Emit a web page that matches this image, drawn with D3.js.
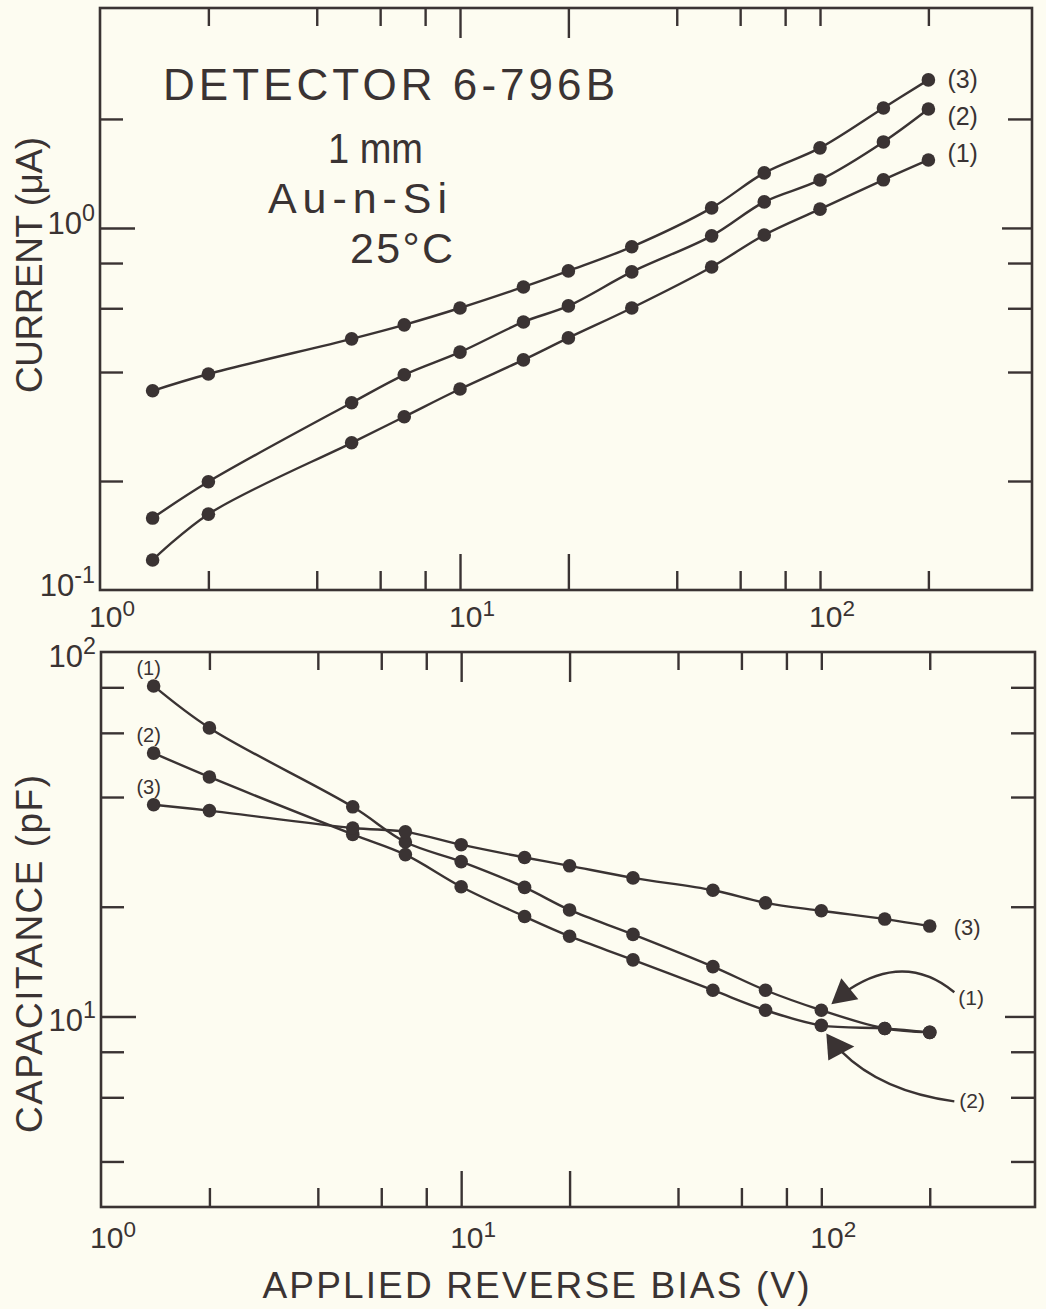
<!DOCTYPE html>
<html lang="en">
<head>
  <meta charset="UTF-8" />
  <title>Detector 6-796B</title>
  <script src="https://d3js.org/d3.v7.min.js"></script>
  <style>
    body {
      margin: 0;
      background: #fdfcf1;
    }
    svg text {
      font-family: 'Liberation Sans', Arial, sans-serif;
      fill: #3a3333;
    }
  </style>
</head>
<body>
  <svg id="chart" width="1046" height="1309"></svg>

  <script>
    // bias voltages shared by every curve (V)
    const biasV = [1.4, 2, 5, 7, 10, 15, 20, 30, 50, 70, 100, 150, 200];

    // leakage current (uA), top panel
    const current1 = [0.121, 0.162, 0.255, 0.301, 0.359, 0.432, 0.497, 0.601, 0.780, 0.956, 1.127, 1.358, 1.541];
    const current2 = [0.158, 0.199, 0.329, 0.393, 0.454, 0.550, 0.609, 0.756, 0.951, 1.180, 1.357, 1.728, 2.13];
    const current3 = [0.355, 0.395, 0.494, 0.540, 0.601, 0.687, 0.761, 0.887, 1.136, 1.419, 1.664, 2.145, 2.564];

    // capacitance (pF), bottom panel
    const cap1 = [80.7, 61.9, 37.6, 30.1, 26.6, 22.6, 19.6, 16.8, 13.7, 11.8, 10.4, 9.27, 9.04];
    const cap2 = [52.8, 45.4, 31.6, 27.8, 22.7, 18.8, 16.6, 14.3, 11.8, 10.4, 9.45, 9.27, 9.04];
    const cap3 = [38.1, 36.7, 32.9, 32.1, 29.6, 27.3, 25.9, 24.0, 22.2, 20.5, 19.5, 18.5, 17.7];

    const seriesNames = ["(1)", "(2)", "(3)"];

    // tick marks
    const xTicks = [2, 4, 6, 8, 10, 20, 40, 60, 80, 100, 200];
    const xLongTicks = [10, 20];
    const xTickLabels = [[1, "0"], [10, "1"], [100, "2"]];
    const currentTicks = [0.2, 0.4, 0.6, 0.8, 1, 2];
    const currentLongTicks = [1];
    const currentTickLabels = [[0.1, "-1"], [1, "0"]];
    const capTicks = [4, 6, 8, 10, 20, 40, 60, 80];
    const capLongTicks = [10];
    const capTickLabels = [[10, "1"], [100, "2"]];

    const ink = "#3a3333";
    const svg = d3.select("#chart");

    const topX = d3.scaleLog().domain([1, 388]).range([100, 1032]);
    const topY = d3.scaleLog().domain([0.1, 4.05]).range([590, 8]);
    const botX = d3.scaleLog().domain([1, 392]).range([101, 1035]);
    const botY = d3.scaleLog().domain([3, 100]).range([1207, 652]);

    function frame(x, y) {
      svg.append("rect")
        .attr("x", x.range()[0]).attr("y", y.range()[1])
        .attr("width", x.range()[1] - x.range()[0])
        .attr("height", y.range()[0] - y.range()[1])
        .attr("fill", "none").attr("stroke", ink).attr("stroke-width", 2.6);
    }

    function tickSet(axisFn, scale, values, size, transform) {
      const g = svg.append("g")
        .attr("transform", transform)
        .call(axisFn(scale).tickValues(values).tickSize(size).tickFormat(""));
      g.select(".domain").remove();
      g.selectAll("line").attr("stroke", ink).attr("stroke-width", 2.4);
    }

    function ticks(x, y, xt, xl, yt, yl) {
      const xs = xt.filter(v => !xl.includes(v));
      const ys = yt.filter(v => !yl.includes(v));
      const [x0, x1] = x.range(), [y0, y1] = y.range();
      tickSet(d3.axisBottom, x, xs, -19, `translate(0,${y0})`);
      tickSet(d3.axisBottom, x, xl, -36, `translate(0,${y0})`);
      tickSet(d3.axisTop, x, xs, -18, `translate(0,${y1})`);
      tickSet(d3.axisTop, x, xl, -30, `translate(0,${y1})`);
      tickSet(d3.axisLeft, y, ys, -23, `translate(${x0},0)`);
      tickSet(d3.axisLeft, y, yl, -35, `translate(${x0},0)`);
      tickSet(d3.axisRight, y, ys, -24, `translate(${x1},0)`);
      tickSet(d3.axisRight, y, yl, -30, `translate(${x1},0)`);
    }

    function powerLabel(px, py, exp, anchor, size, shift) {
      const t = svg.append("text")
        .attr("x", px).attr("y", py)
        .attr("text-anchor", anchor)
        .attr("font-size", size);
      t.append("tspan").text("10");
      t.append("tspan").attr("dy", shift).attr("font-size", size * 0.75).text(exp);
    }

    function xLabels(x, y, dy) {
      xTickLabels.forEach(([v, e]) => powerLabel(x(v) - 11, y.range()[0] + dy, e, "start", 30, -11));
    }

    function yLabels(x, y, list, dy) {
      list.forEach(([v, e]) => powerLabel(x.range()[0] - 5, y(v) + dy, e, "end", 31, -13));
    }

    function curves(x, y, sets, r) {
      const line = d3.line().x(d => x(d[0])).y(d => y(d[1])).curve(d3.curveCatmullRom.alpha(0.5));
      sets.forEach(vals => {
        const pts = biasV.map((v, i) => [v, vals[i]]);
        svg.append("path").datum(pts)
          .attr("d", line)
          .attr("fill", "none").attr("stroke", ink).attr("stroke-width", 2.4);
        svg.append("g").selectAll("circle").data(pts).join("circle")
          .attr("cx", d => x(d[0])).attr("cy", d => y(d[1]))
          .attr("r", r).attr("fill", ink);
      });
    }

    // ---------- top panel: current ----------
    frame(topX, topY);
    ticks(topX, topY, xTicks, xLongTicks, currentTicks, currentLongTicks);
    xLabels(topX, topY, 37);
    yLabels(topX, topY, currentTickLabels, 6);
    curves(topX, topY, [current1, current2, current3], 6.8);

    const last = biasV.length - 1;
    const topLabelDy = [2, 16, 8];
    [current1, current2, current3].forEach((vals, i) => {
      svg.append("text")
        .attr("x", topX(biasV[last]) + 19)
        .attr("y", topY(vals[last]) + topLabelDy[i])
        .attr("font-size", 25)
        .text(seriesNames[i]);
    });

    svg.append("text").attr("x", 163).attr("y", 100)
      .attr("font-size", 44).attr("textLength", 452).attr("lengthAdjust", "spacing")
      .text("DETECTOR 6-796B");
    svg.append("text").attr("x", 328).attr("y", 163)
      .attr("font-size", 43).attr("textLength", 95).attr("lengthAdjust", "spacingAndGlyphs")
      .text("1 mm");
    svg.append("text").attr("x", 268).attr("y", 213)
      .attr("font-size", 43).attr("textLength", 179).attr("lengthAdjust", "spacing")
      .text("Au-n-Si");
    svg.append("text").attr("x", 350).attr("y", 263)
      .attr("font-size", 43).attr("textLength", 103).attr("lengthAdjust", "spacing")
      .text("25°C");

    svg.append("text")
      .attr("transform", "translate(42,265) rotate(-90)")
      .attr("text-anchor", "middle").attr("font-size", 37)
      .attr("textLength", 256).attr("lengthAdjust", "spacing")
      .text("CURRENT (μA)");

    // ---------- bottom panel: capacitance ----------
    frame(botX, botY);
    ticks(botX, botY, xTicks, xLongTicks, capTicks, capLongTicks);
    xLabels(botX, botY, 41);
    yLabels(botX, botY, capTickLabels, 15);
    curves(botX, botY, [cap1, cap2, cap3], 6.8);

    [cap1, cap2, cap3].forEach((vals, i) => {
      svg.append("text")
        .attr("x", botX(biasV[0]) - 5)
        .attr("y", botY(vals[0]) - 11)
        .attr("text-anchor", "middle")
        .attr("font-size", 20)
        .text(seriesNames[i]);
    });
    svg.append("text")
      .attr("x", botX(biasV[last]) + 24)
      .attr("y", botY(cap3[last]) + 9)
      .attr("font-size", 22)
      .text(seriesNames[2]);

    // arrows pointing at the 100 V points of curves (1) and (2)
    const iArrow = biasV.indexOf(100);
    const p1 = [botX(100), botY(cap1[iArrow])];
    const p2 = [botX(100), botY(cap2[iArrow])];

    svg.append("path")
      .attr("d", `M${p1[0] + 10},${p1[1] - 6} L${p1[0] + 20},${p1[1] - 32} L${p1[0] + 37},${p1[1] - 11} Z`)
      .attr("fill", ink);
    svg.append("path")
      .attr("d", `M${p1[0] + 28},${p1[1] - 21} Q${p1[0] + 85},${p1[1] - 58} ${p1[0] + 133},${p1[1] - 18}`)
      .attr("fill", "none").attr("stroke", ink).attr("stroke-width", 2.4);
    svg.append("text")
      .attr("x", p1[0] + 137).attr("y", p1[1] - 5)
      .attr("font-size", 21).text(seriesNames[0]);

    svg.append("path")
      .attr("d", `M${p2[0] + 5},${p2[1] + 8} L${p2[0] + 7},${p2[1] + 35} L${p2[0] + 33},${p2[1] + 21} Z`)
      .attr("fill", ink);
    svg.append("path")
      .attr("d", `M${p2[0] + 20},${p2[1] + 26} Q${p2[0] + 60},${p2[1] + 66} ${p2[0] + 133},${p2[1] + 76}`)
      .attr("fill", "none").attr("stroke", ink).attr("stroke-width", 2.4);
    svg.append("text")
      .attr("x", p2[0] + 138).attr("y", p2[1] + 83)
      .attr("font-size", 21).text(seriesNames[1]);

    svg.append("text")
      .attr("transform", "translate(42,954) rotate(-90)")
      .attr("text-anchor", "middle").attr("font-size", 37)
      .attr("textLength", 358).attr("lengthAdjust", "spacing")
      .text("CAPACITANCE (pF)");

    svg.append("text")
      .attr("x", 536).attr("y", 1298)
      .attr("text-anchor", "middle").attr("font-size", 37)
      .attr("textLength", 547).attr("lengthAdjust", "spacing")
      .text("APPLIED REVERSE BIAS (V)");
  </script>
</body>
</html>
